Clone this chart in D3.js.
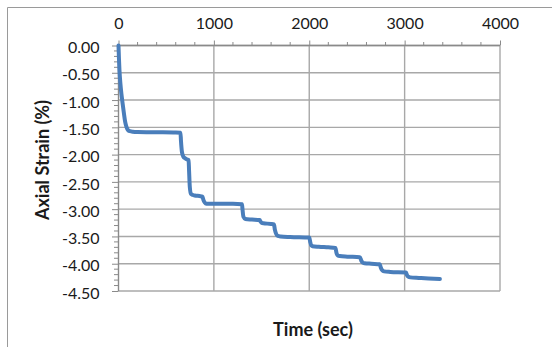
<!DOCTYPE html>
<html><head><meta charset="utf-8">
<script src="https://cdn.jsdelivr.net/npm/d3@7"></script>
<style>body{margin:0;background:#fff}svg{display:block}</style>
</head><body>
<svg id="c" width="552" height="347"></svg>
<script>
const timeSec = [0,5,10,20,30,40,55,70,85,100,120,150,200,400,600,650,655,665,680,700,720,735,740,748,760,780,800,850,880,890,905,920,1000,1200,1295,1300,1310,1330,1400,1480,1490,1500,1520,1600,1630,1640,1655,1670,1700,1800,2000,2010,2020,2035,2100,2200,2275,2285,2300,2320,2400,2530,2545,2560,2580,2650,2740,2750,2765,2785,2850,3015,3025,3040,3060,3150,3250,3370];
const axialStrain = [0,-0.25,-0.45,-0.7,-0.88,-1.02,-1.22,-1.40,-1.50,-1.55,-1.57,-1.58,-1.585,-1.59,-1.595,-1.60,-1.75,-1.95,-2.04,-2.07,-2.09,-2.10,-2.3,-2.6,-2.72,-2.74,-2.75,-2.76,-2.77,-2.83,-2.88,-2.90,-2.90,-2.90,-2.91,-3.0,-3.14,-3.18,-3.19,-3.20,-3.23,-3.25,-3.26,-3.27,-3.28,-3.38,-3.46,-3.49,-3.50,-3.51,-3.52,-3.60,-3.66,-3.68,-3.69,-3.70,-3.71,-3.80,-3.85,-3.86,-3.87,-3.88,-3.94,-3.98,-3.99,-4.00,-4.01,-4.07,-4.12,-4.14,-4.15,-4.16,-4.21,-4.24,-4.25,-4.26,-4.27,-4.28];
const xTicks = [0,1000,2000,3000,4000];
const yTicks = [0,-0.5,-1,-1.5,-2,-2.5,-3,-3.5,-4,-4.5];
const xTitle = "Time (sec)";
const yTitle = "Axial Strain (%)";

const svg = d3.select("#c");
const L = 118.5, R = 500, T = 45.5, B = 291;
const x = d3.scaleLinear().domain([0,4000]).range([L,R]);
const y = d3.scaleLinear().domain([0,-4.5]).range([T,B]);
const font = "Lato, 'Open Sans', sans-serif";
const gridC = "#a8a8a8", axC = "#8a8a8a";

svg.append("path").attr("d","M7.5,347 L7.5,7.5 L552,7.5").attr("fill","none").attr("stroke","#9a9a9a").attr("stroke-width",1);

svg.append("g").selectAll("line").data(yTicks).join("line")
  .attr("x1",L).attr("x2",R).attr("y1",d=>y(d)).attr("y2",d=>y(d))
  .attr("stroke",gridC).attr("stroke-width",1.4);
svg.append("g").selectAll("line").data(xTicks.slice(1)).join("line")
  .attr("x1",d=>x(d)).attr("x2",d=>x(d)).attr("y1",T).attr("y2",B)
  .attr("stroke",gridC).attr("stroke-width",1.4);

const xAxis = d3.axisTop(x).tickValues(xTicks).tickSize(5).tickFormat(d3.format("d"));
const gx = svg.append("g").attr("transform",`translate(0,${T})`).call(xAxis);
const xMinor = d3.range(0,4001,200).filter(v=>v%1000!==0);
gx.selectAll(".minor").data(xMinor).join("line").attr("class","minor")
  .attr("x1",d=>x(d)).attr("x2",d=>x(d)).attr("y1",0).attr("y2",-3.5).attr("stroke",axC);
gx.select(".domain").attr("stroke",axC).attr("stroke-width",1.4).attr("d",`M${L},0H${R}`);
gx.selectAll(".tick line").attr("stroke",axC);
gx.selectAll(".tick text").attr("font-family",font).attr("font-size",16).attr("fill","#1a1a1a").attr("y",-17);

const yAxis = d3.axisLeft(y).tickValues(yTicks).tickSize(6.5).tickFormat(d3.format(".2f"));
const gy = svg.append("g").attr("transform",`translate(${L},0)`).call(yAxis);
const yMinor = d3.range(0,46).map(i=>-i/10).filter(v=>Math.abs(Math.round(v*10))%5!==0);
gy.selectAll(".minor").data(yMinor).join("line").attr("class","minor")
  .attr("x1",0).attr("x2",-4.5).attr("y1",d=>y(d)).attr("y2",d=>y(d)).attr("stroke",axC);
gy.select(".domain").attr("stroke",axC).attr("stroke-width",1.4).attr("d",`M0,${T}V${B}`);
gy.selectAll(".tick line").attr("stroke",axC);
gy.selectAll(".tick text").attr("font-family",font).attr("font-size",16).attr("fill","#1a1a1a")
  .attr("x",-19).attr("dy","0.45em").text(d=>d3.format(".2f")(d).replace("−","-"));

const pts = timeSec.map((t,i)=>[t,axialStrain[i]]);
svg.append("path").datum(pts)
  .attr("d",d3.line().x(d=>x(d[0])).y(d=>y(d[1])).curve(d3.curveMonotoneX))
  .attr("fill","none").attr("stroke","#4a7ebb").attr("stroke-width",4).attr("stroke-linejoin","round").attr("stroke-linecap","round");

svg.append("text").attr("x",313).attr("y",336).attr("text-anchor","middle")
  .attr("font-family",font).attr("font-weight","bold").attr("font-size",18).attr("fill","#1a1a1a").text(xTitle);
svg.append("text").attr("transform","translate(49,160) rotate(-90)").attr("text-anchor","middle")
  .attr("font-family",font).attr("font-weight","bold").attr("font-size",18).attr("fill","#1a1a1a").text(yTitle);
</script>
</body></html>
